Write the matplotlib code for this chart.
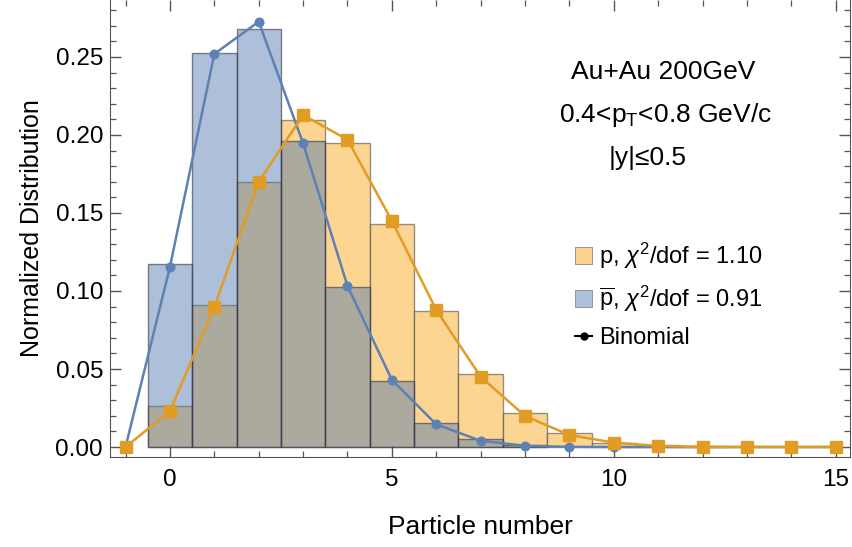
import matplotlib.pyplot as plt
from matplotlib.patches import Patch
from matplotlib.lines import Line2D
from matplotlib.ticker import MultipleLocator

plt.rcParams['font.family'] = ['Liberation Sans', 'DejaVu Sans']
plt.rcParams['mathtext.fontset'] = 'custom'
plt.rcParams['mathtext.rm'] = 'Liberation Sans'
plt.rcParams['mathtext.it'] = 'Liberation Sans:italic'

# DATA
bins_p = [0, 1, 2, 3, 4, 5, 6, 7, 8, 9, 10, 11, 12]
hist_p = [0.026, 0.091, 0.170, 0.2096, 0.195, 0.143, 0.087, 0.047, 0.0216, 0.0092, 0.0028, 0.0013, 0.0005]
bins_pbar = [0, 1, 2, 3, 4, 5, 6, 7, 8]
hist_pbar = [0.117, 0.2523, 0.2678, 0.1963, 0.1026, 0.042, 0.0152, 0.0049, 0.001]

n_binom = list(range(-1, 16))
binom_p = [0, 0.023, 0.0897, 0.170, 0.2128, 0.197, 0.145, 0.0878, 0.045, 0.0199,
           0.0077, 0.0028, 0.0007, 0, 0, 0, 0]
binom_pbar = [0, 0.1154, 0.2519, 0.2726, 0.1947, 0.1032, 0.043, 0.0145, 0.004, 0.0008,
              0.0001, 0, 0, 0, 0, 0, 0]

labels = [r'p, $\chi^2$/dof = 1.10', r'$\overline{\mathrm{p}}$, $\chi^2$/dof = 0.91', 'Binomial']

blue = '#5E81B5'
orange = '#E19C24'

# FIGURE
fig = plt.figure(figsize=(8.53, 5.47), dpi=100)
ax = fig.add_axes([110/853, 1 - 457/547, 740/853, 457/547])

ax.bar(bins_p, hist_p, width=1.0, color='#FCD592', edgecolor=(0.25, 0.25, 0.25, 0.55),
       linewidth=1.0, zorder=1)
ax.bar(bins_pbar, hist_pbar, width=1.0, color=(0.31, 0.46, 0.69, 0.46),
       edgecolor=(0.2, 0.2, 0.25, 0.6), linewidth=1.0, zorder=2)

ax.plot(n_binom, binom_pbar, color=blue, lw=1.8, marker='o', ms=6.2, zorder=3)
ax.plot(n_binom, binom_p, color=orange, lw=1.8, marker='s', ms=8.5, zorder=4)

ax.set_xlim(-1.35, 15.32)
ax.set_ylim(-0.0064, 0.2865)

ax.xaxis.set_major_locator(MultipleLocator(5))
ax.xaxis.set_minor_locator(MultipleLocator(1))
ax.yaxis.set_major_locator(MultipleLocator(0.05))
ax.yaxis.set_minor_locator(MultipleLocator(0.01))
ax.yaxis.set_major_formatter(lambda v, p: f'{v:.2f}')

ax.tick_params(which='both', direction='in', top=True, right=True, color='#555555')
ax.tick_params(which='major', length=8, width=1.0, labelsize=17.5)
ax.tick_params(which='minor', length=4.5, width=0.9)
ax.tick_params(axis='x', pad=9)
ax.tick_params(axis='y', pad=5)
for s in ax.spines.values():
    s.set_color('#555555')
ax.spines['top'].set_visible(False)

ax.set_xlabel('Particle number', fontsize=19, labelpad=17)
ax.set_ylabel('Normalized Distribution', fontsize=18, labelpad=8)

ax.text(0.747, 0.842, 'Au+Au 200GeV', transform=ax.transAxes, ha='center', va='center', fontsize=19)
ax.text(0.75, 0.748, r'0.4<p$_\mathrm{T}$<0.8 GeV/c', transform=ax.transAxes, ha='center', va='center', fontsize=19)
ax.text(0.726, 0.654, '|y|≤0.5', transform=ax.transAxes, ha='center', va='center', fontsize=19)

handles = [Patch(facecolor='#FCD592', edgecolor='#999999', linewidth=0.8),
           Patch(facecolor='#AEC0DA', edgecolor='#999999', linewidth=0.8),
           Line2D([], [], color='black', marker='o', ms=5, lw=1.5)]
ax.legend(handles, labels, loc='upper left', bbox_to_anchor=(0.60, 0.52), frameon=False,
          fontsize=17, handlelength=0.7, handleheight=0.7, handletextpad=0.3, labelspacing=0.55)

fig.savefig('out.png', dpi=100)
